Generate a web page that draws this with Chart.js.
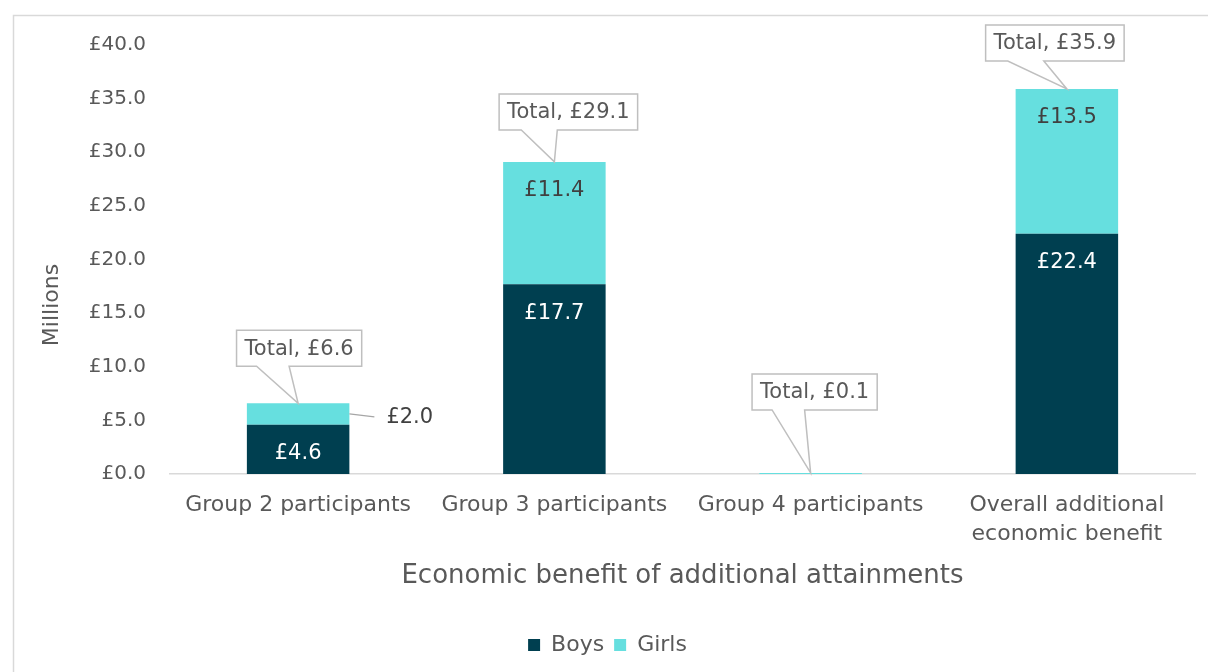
<!DOCTYPE html>
<html><head><meta charset="utf-8">
<script src="https://cdn.jsdelivr.net/npm/chart.js@4.4.1/dist/chart.umd.min.js"></script>
<style>html,body{margin:0;padding:0;background:#fff;}#wrap{position:relative;width:1208px;height:672px;}</style>
</head><body><div id="wrap"><canvas id="c" width="1208" height="672"></canvas></div>
<script>
const categories = [['Group 2 participants'], ['Group 3 participants'], ['Group 4 participants'], ['Overall additional', 'economic benefit']];
const boys = [4.6, 17.7, 0.0, 22.4];
const girls = [2.0, 11.4, 0.1, 13.5];
const totals = [6.6, 29.1, 0.1, 35.9];
const seriesNames = ['Boys', 'Girls'];
const yMin = 0, yMax = 40, yStep = 5;
const axisTitleX = 'Economic benefit of additional attainments';
const axisTitleY = 'Millions';

const FONT = 'DejaVu Sans';
const TXT = '#595959';
const fmt = v => '£' + v.toFixed(1);

// callout placement styles (offset of box centre from bar centre, gap between box bottom and bar top)
const calloutStyle = [
  {dx: 1, gap: 37},
  {dx: 14, gap: 32},
  {dx: 4, gap: 63},
  {dx: -12, gap: 28}
];

const labelsPlugin = {
  id: 'labels',
  beforeDraw(chart) {
    const ctx = chart.ctx;
    ctx.save();
    ctx.strokeStyle = '#d9d9d9';
    ctx.lineWidth = 1.5;
    ctx.strokeRect(13.5, 15.5, 1400, 1000);
    ctx.restore();
  },
  afterDraw(chart) {
    const ctx = chart.ctx;
    ctx.save();
    ctx.font = '22px "' + FONT + '"';
    ctx.fillStyle = TXT;
    ctx.textAlign = 'center';
    ctx.textBaseline = 'middle';
    ctx.translate(52, 305);
    ctx.rotate(-Math.PI / 2);
    ctx.fillText(axisTitleY, 0, 0);
    ctx.restore();
  },
  afterDatasetsDraw(chart) {
    const ctx = chart.ctx;
    const y = chart.scales.y;
    const mB = chart.getDatasetMeta(0).data;
    const mG = chart.getDatasetMeta(1).data;
    ctx.save();
    ctx.font = '21px "' + FONT + '"';
    ctx.textAlign = 'center';
    ctx.textBaseline = 'middle';
    for (let i = 0; i < categories.length; i++) {
      const b = mB[i], g = mG[i];
      const bh = y.getPixelForValue(0) - y.getPixelForValue(boys[i]);
      if (bh > 30) {
        ctx.fillStyle = '#ffffff';
        ctx.fillText(fmt(boys[i]), b.x, y.getPixelForValue(boys[i]) + 29);
      }
      const gTop = y.getPixelForValue(boys[i] + girls[i]);
      const gBot = y.getPixelForValue(boys[i]);
      const gh = gBot - gTop;
      if (gh > 30) {
        ctx.fillStyle = '#404040';
        ctx.fillText(fmt(girls[i]), g.x, gTop + 29);
      } else if (girls[i] >= 1) {
        const cy = (gTop + gBot) / 2;
        const x0 = g.x + g.width / 2;
        ctx.strokeStyle = '#a6a6a6';
        ctx.lineWidth = 1.2;
        ctx.beginPath();
        ctx.moveTo(x0, cy);
        ctx.lineTo(x0 + 25, cy + 3);
        ctx.stroke();
        ctx.fillStyle = '#404040';
        ctx.textAlign = 'left';
        ctx.fillText(fmt(girls[i]), x0 + 37, cy + 4);
        ctx.textAlign = 'center';
      }
    }
    for (let i = 0; i < categories.length; i++) {
      const st = calloutStyle[i];
      const tipX = mG[i].x;
      const tipY = y.getPixelForValue(totals[i]);
      const text = 'Total, ' + fmt(totals[i]);
      const tw = ctx.measureText(text).width;
      const w = tw + 16, h = 36;
      const cx = tipX + st.dx;
      const bottom = tipY - st.gap;
      const left = cx - w / 2, top = bottom - h;
      const b1 = left + w * 0.16, b2 = left + w * 0.42;
      ctx.beginPath();
      ctx.moveTo(left, top);
      ctx.lineTo(left + w, top);
      ctx.lineTo(left + w, bottom);
      ctx.lineTo(b2, bottom);
      ctx.lineTo(tipX, tipY);
      ctx.lineTo(b1, bottom);
      ctx.lineTo(left, bottom);
      ctx.closePath();
      ctx.fillStyle = '#ffffff';
      ctx.fill();
      ctx.strokeStyle = '#bfbfbf';
      ctx.lineWidth = 1.5;
      ctx.stroke();
      ctx.fillStyle = TXT;
      ctx.fillText(text, cx, top + h / 2 + 1);
    }
    ctx.restore();
  }
};

new Chart(document.getElementById('c'), {
  type: 'bar',
  data: {
    labels: categories,
    datasets: [
      {label: seriesNames[0], data: boys, backgroundColor: '#003f50', borderWidth: 0, barPercentage: 0.5, categoryPercentage: 0.8},
      {label: seriesNames[1], data: girls, backgroundColor: '#66dfdf', borderWidth: 0, barPercentage: 0.5, categoryPercentage: 0.8}
    ]
  },
  options: {
    responsive: false,
    animation: false,
    layout: {padding: {left: 20, top: 45, right: 13, bottom: 6}},
    plugins: {
      legend: {
        position: 'bottom',
        labels: {font: {family: FONT, size: 22}, color: TXT, boxWidth: 12, boxHeight: 12, padding: 10}
      },
      tooltip: {enabled: false}
    },
    scales: {
      x: {
        stacked: true,
        grid: {display: false},
        border: {display: true, color: '#d9d9d9', width: 1.5},
        ticks: {font: {family: FONT, size: 22, lineHeight: 1.3}, color: TXT, padding: 9, maxRotation: 0, autoSkip: false},
        title: {display: true, text: axisTitleX, font: {family: FONT, size: 26}, color: TXT, padding: {top: 0, bottom: 32}},
        afterFit(s) { s.height = 150; }
      },
      y: {
        stacked: true,
        min: yMin, max: yMax,
        grid: {display: false},
        border: {display: false},
        ticks: {stepSize: yStep, font: {family: FONT, size: 20}, color: TXT, padding: 16, callback: v => fmt(v)},
        title: {display: false},
        afterFit(s) { s.width = 150; }
      }
    }
  },
  plugins: [labelsPlugin]
});
</script>
</body></html>
